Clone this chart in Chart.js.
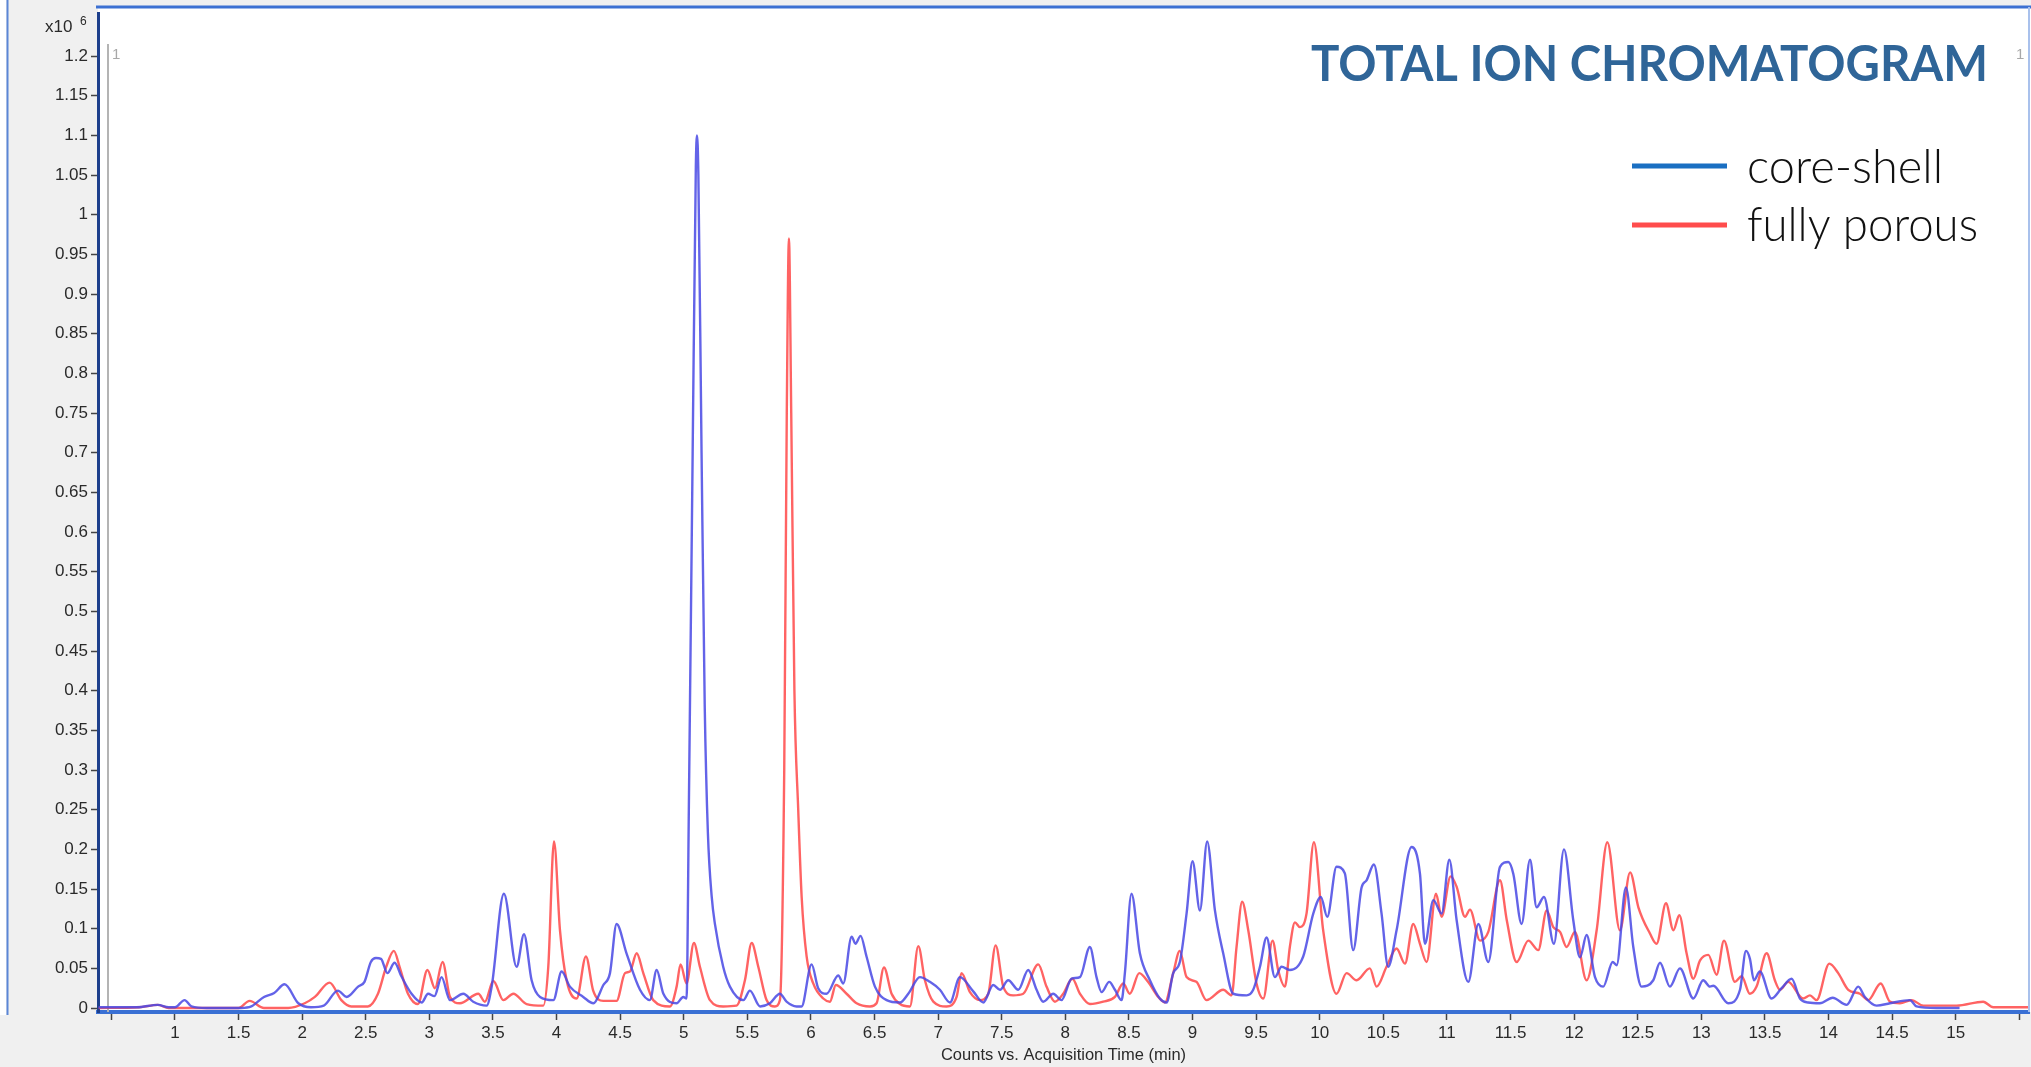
<!DOCTYPE html>
<html>
<head>
<meta charset="utf-8">
<title>Total Ion Chromatogram</title>
<script src="https://cdn.jsdelivr.net/npm/chart.js@4.4.1/dist/chart.umd.min.js"></script>
<style>
  html, body { margin: 0; padding: 0; background: #f0f0f0; }
  #wrap { width: 2031px; height: 1067px; }
</style>
</head>
<body>
<div id="wrap"><canvas id="ticChart" width="2031" height="1067"></canvas></div>
<script>
// Acquisition time (min) / counts (x10^6), peaks and valleys
const coreShellTime = [
  0.40, 0.70, 0.866, 0.95, 1.00, 1.076, 1.13, 1.25, 1.52, 1.60,
  1.70, 1.78, 1.862, 1.97, 2.07, 2.17, 2.281, 2.35, 2.44, 2.49,
  2.54, 2.58, 2.62, 2.67, 2.727, 2.78, 2.86, 2.94, 2.99, 3.04,
  3.096, 3.162, 3.267, 3.345, 3.45, 3.49, 3.586, 3.686, 3.744, 3.804,
  3.87, 3.975, 4.04, 4.105, 4.21, 4.29, 4.368, 4.42, 4.472, 4.55,
  4.656, 4.734, 4.787, 4.84, 4.944, 4.996, 5.022, 5.04, 5.07, 5.095,
  5.104, 5.115, 5.14, 5.165, 5.19, 5.22, 5.245, 5.31, 5.363, 5.47,
  5.52, 5.60, 5.677, 5.756, 5.808, 5.887, 5.926, 6.005, 6.057, 6.123,
  6.215, 6.254, 6.32, 6.35, 6.39, 6.437, 6.503, 6.595, 6.70, 6.765,
  6.857, 6.935, 7.014, 7.093, 7.171, 7.276, 7.355, 7.433, 7.486, 7.551,
  7.63, 7.708, 7.774, 7.826, 7.905, 7.97, 8.049, 8.115, 8.193, 8.245,
  8.285, 8.345, 8.39, 8.442, 8.468, 8.52, 8.586, 8.665, 8.743, 8.796,
  8.848, 8.9, 8.953, 9.0, 9.058, 9.115, 9.176, 9.241, 9.32, 9.425,
  9.477, 9.53, 9.582, 9.647, 9.70, 9.765, 9.87, 9.949, 10.009, 10.059,
  10.132, 10.197, 10.263, 10.329, 10.368, 10.426, 10.486, 10.538, 10.604, 10.722,
  10.788, 10.827, 10.893, 10.958, 11.019, 11.076, 11.168, 11.247, 11.325, 11.417,
  11.482, 11.522, 11.587, 11.653, 11.705, 11.763, 11.841, 11.92, 11.993, 12.046,
  12.098, 12.164, 12.229, 12.303, 12.334, 12.407, 12.465, 12.53, 12.622, 12.675,
  12.753, 12.832, 12.937, 13.015, 13.068, 13.094, 13.212, 13.304, 13.351, 13.382,
  13.413, 13.46, 13.552, 13.631, 13.71, 13.775, 13.84, 13.932, 14.032, 14.142,
  14.234, 14.286, 14.378, 14.483, 14.64, 14.692, 14.85, 15.03
];
const coreShellCounts = [
  0.001, 0.001, 0.004, 0.001, 0.001, 0.010, 0.002, 0.000, 0.000, 0.002,
  0.014, 0.019, 0.030, 0.006, 0.001, 0.003, 0.022, 0.014, 0.027, 0.033,
  0.058, 0.063, 0.062, 0.044, 0.057, 0.040, 0.018, 0.007, 0.018, 0.015,
  0.039, 0.010, 0.018, 0.008, 0.003, 0.027, 0.144, 0.052, 0.093, 0.035,
  0.014, 0.010, 0.046, 0.027, 0.014, 0.006, 0.029, 0.044, 0.106, 0.069,
  0.023, 0.010, 0.048, 0.018, 0.006, 0.014, 0.012, 0.25, 0.70, 1.06,
  1.10, 1.05, 0.70, 0.38, 0.22, 0.14, 0.106, 0.052, 0.027, 0.010,
  0.022, 0.002, 0.006, 0.018, 0.008, 0.002, 0.002, 0.055, 0.025, 0.018,
  0.041, 0.031, 0.090, 0.081, 0.091, 0.065, 0.027, 0.010, 0.007, 0.018,
  0.039, 0.033, 0.023, 0.007, 0.039, 0.021, 0.007, 0.029, 0.023, 0.035,
  0.023, 0.048, 0.023, 0.008, 0.018, 0.010, 0.037, 0.039, 0.077, 0.039,
  0.020, 0.033, 0.023, 0.010, 0.044, 0.144, 0.069, 0.035, 0.012, 0.007,
  0.044, 0.058, 0.119, 0.185, 0.123, 0.210, 0.123, 0.069, 0.018, 0.016,
  0.023, 0.052, 0.089, 0.039, 0.052, 0.048, 0.065, 0.119, 0.140, 0.115,
  0.178, 0.170, 0.073, 0.152, 0.161, 0.181, 0.119, 0.052, 0.098, 0.203,
  0.169, 0.081, 0.136, 0.119, 0.187, 0.111, 0.033, 0.106, 0.058, 0.178,
  0.184, 0.169, 0.106, 0.187, 0.127, 0.140, 0.081, 0.200, 0.111, 0.064,
  0.092, 0.039, 0.027, 0.058, 0.054, 0.152, 0.077, 0.027, 0.035, 0.057,
  0.027, 0.050, 0.012, 0.035, 0.027, 0.028, 0.006, 0.023, 0.072, 0.062,
  0.035, 0.046, 0.012, 0.025, 0.037, 0.012, 0.007, 0.006, 0.013, 0.004,
  0.027, 0.014, 0.003, 0.006, 0.010, 0.002, 0.000, 0.000
];

const fullyPorousTime = [
  0.40, 0.72, 0.865, 0.95, 1.50, 1.587, 1.70, 1.89, 2.02, 2.10,
  2.216, 2.308, 2.386, 2.517, 2.596, 2.661, 2.721, 2.766, 2.832, 2.91,
  2.985, 3.044, 3.104, 3.162, 3.24, 3.385, 3.437, 3.503, 3.582, 3.66,
  3.765, 3.896, 3.935, 3.98, 4.027, 4.079, 4.158, 4.231, 4.288, 4.367,
  4.472, 4.538, 4.577, 4.63, 4.682, 4.76, 4.892, 4.944, 4.975, 5.022,
  5.08, 5.127, 5.206, 5.31, 5.415, 5.481, 5.534, 5.586, 5.651, 5.717,
  5.756, 5.79, 5.81, 5.827, 5.845, 5.87, 5.90, 5.927, 5.966, 6.018,
  6.097, 6.149, 6.196, 6.28, 6.359, 6.464, 6.516, 6.574, 6.634, 6.70,
  6.778, 6.844, 6.896, 6.962, 7.066, 7.145, 7.184, 7.25, 7.328, 7.394,
  7.452, 7.512, 7.59, 7.669, 7.787, 7.852, 7.918, 7.983, 8.055, 8.115,
  8.193, 8.298, 8.39, 8.455, 8.507, 8.581, 8.65, 8.73, 8.783, 8.848,
  8.90, 8.953, 9.03, 9.11, 9.241, 9.307, 9.346, 9.39, 9.438, 9.503,
  9.556, 9.629, 9.673, 9.726, 9.765, 9.805, 9.844, 9.896, 9.954, 10.027,
  10.132, 10.211, 10.29, 10.394, 10.447, 10.525, 10.604, 10.67, 10.735, 10.788,
  10.84, 10.914, 10.958, 11.029, 11.076, 11.142, 11.181, 11.26, 11.325, 11.417,
  11.47, 11.548, 11.64, 11.718, 11.784, 11.836, 11.889, 11.941, 12.006, 12.098,
  12.177, 12.261, 12.36, 12.44, 12.505, 12.596, 12.648, 12.722, 12.78, 12.827,
  12.884, 12.937, 12.99, 13.055, 13.12, 13.178, 13.264, 13.317, 13.382, 13.434,
  13.513, 13.578, 13.618, 13.683, 13.8, 13.854, 13.906, 14.006, 14.076, 14.155,
  14.247, 14.312, 14.41, 14.483, 14.561, 14.653, 14.745, 14.85, 15.007, 15.216,
  15.295, 15.576
];
const fullyPorousCounts = [
  0.000, 0.001, 0.004, 0.000, 0.000, 0.009, 0.000, 0.000, 0.006, 0.014,
  0.032, 0.010, 0.002, 0.002, 0.018, 0.052, 0.072, 0.052, 0.018, 0.005,
  0.048, 0.025, 0.058, 0.014, 0.006, 0.018, 0.008, 0.034, 0.010, 0.018,
  0.005, 0.003, 0.052, 0.210, 0.098, 0.035, 0.012, 0.065, 0.022, 0.009,
  0.009, 0.044, 0.046, 0.069, 0.044, 0.010, 0.002, 0.027, 0.055, 0.031,
  0.082, 0.052, 0.010, 0.002, 0.003, 0.035, 0.082, 0.052, 0.010, 0.002,
  0.010, 0.300, 0.750, 0.970, 0.750, 0.400, 0.250, 0.140, 0.065, 0.031,
  0.012, 0.008, 0.029, 0.018, 0.006, 0.002, 0.006, 0.051, 0.018, 0.005,
  0.002, 0.078, 0.035, 0.008, 0.002, 0.014, 0.044, 0.020, 0.010, 0.018,
  0.079, 0.027, 0.016, 0.018, 0.055, 0.027, 0.008, 0.018, 0.037, 0.018,
  0.005, 0.008, 0.014, 0.031, 0.018, 0.044, 0.033, 0.014, 0.007, 0.044,
  0.072, 0.039, 0.033, 0.010, 0.023, 0.016, 0.077, 0.134, 0.098, 0.031,
  0.012, 0.085, 0.048, 0.027, 0.077, 0.108, 0.102, 0.119, 0.209, 0.098,
  0.018, 0.044, 0.035, 0.050, 0.027, 0.052, 0.075, 0.056, 0.106, 0.081,
  0.058, 0.144, 0.115, 0.166, 0.153, 0.115, 0.124, 0.085, 0.096, 0.161,
  0.111, 0.058, 0.085, 0.073, 0.123, 0.102, 0.096, 0.077, 0.096, 0.035,
  0.098, 0.209, 0.098, 0.171, 0.127, 0.094, 0.081, 0.132, 0.098, 0.117,
  0.069, 0.037, 0.060, 0.067, 0.042, 0.085, 0.033, 0.040, 0.018, 0.027,
  0.069, 0.035, 0.023, 0.033, 0.012, 0.016, 0.010, 0.056, 0.044, 0.023,
  0.018, 0.010, 0.031, 0.008, 0.006, 0.010, 0.003, 0.003, 0.003, 0.008,
  0.001, 0.001
];

const seriesLabels = ['core-shell', 'fully porous'];
const lineColors = ['rgba(72, 72, 228, 0.85)', 'rgba(255, 72, 72, 0.85)'];
const legendColors = ['#1a6fc2', '#ff4c4c'];
const chartTitle = 'TOTAL ION CHROMATOGRAM';
const xAxisTitle = 'Counts vs. Acquisition Time (min)';

function toPoints(times, counts) {
    return times.map((t, i) => ({ x: t, y: counts[i] }));
}

// white plot area, the outer frame, the "x10^6" tag and the cursor marker
const framePlugin = {
    id: 'frame',
    beforeDraw(chart) {
        const ctx = chart.ctx;
        const a = chart.chartArea;
        ctx.save();
        ctx.fillStyle = '#ffffff';
        ctx.fillRect(0, 0, 6, 1015);
        ctx.fillRect(a.left, 7, a.right - a.left + 2, a.bottom - 7);
        ctx.strokeStyle = '#5b86d6';
        ctx.lineWidth = 2;
        ctx.beginPath();
        ctx.moveTo(7.5, 0);
        ctx.lineTo(7.5, 1015);
        ctx.stroke();
        ctx.restore();
    },
    beforeDatasetsDraw(chart) {
        const ctx = chart.ctx;
        const a = chart.chartArea;
        ctx.save();
        ctx.strokeStyle = '#b4b4b4';
        ctx.lineWidth = 2;
        ctx.beginPath();
        ctx.moveTo(108, 44);
        ctx.lineTo(108, a.bottom);
        ctx.stroke();
        ctx.fillStyle = '#a8a8a8';
        ctx.font = '15px "Liberation Sans", Arial, sans-serif';
        ctx.textBaseline = 'alphabetic';
        ctx.fillText('1', 112, 59);
        ctx.fillText('1', 2016, 59);
        ctx.restore();
    },
    afterDraw(chart) {
        const ctx = chart.ctx;
        const a = chart.chartArea;
        ctx.save();
        // top and right frame
        ctx.strokeStyle = '#3c70d2';
        ctx.lineWidth = 3;
        ctx.beginPath();
        ctx.moveTo(a.left - 2, 7);
        ctx.lineTo(2031, 7);
        ctx.stroke();
        ctx.strokeStyle = '#a9c1ec';
        ctx.lineWidth = 2;
        ctx.beginPath();
        ctx.moveTo(2029, 7);
        ctx.lineTo(2029, a.bottom);
        ctx.stroke();

        // exponent tag above the y axis
        ctx.fillStyle = '#2a2a2a';
        ctx.font = '17px "Liberation Sans", Arial, sans-serif';
        ctx.textBaseline = 'alphabetic';
        ctx.textAlign = 'left';
        ctx.fillText('x10', 45, 32);
        ctx.font = '12px "Liberation Sans", Arial, sans-serif';
        ctx.fillText('6', 80, 25);

        // title, squeezed to the width it takes in the original
        ctx.fillStyle = '#2f6598';
        ctx.font = 'bold 50px Lato, "Open Sans", sans-serif';
        fitText(ctx, chartTitle, 1311, 81, 677);

        // legend
        const legendBase = [183, 241];
        const legendLineY = [166, 225];
        const legendWidths = [196, 231];
        ctx.lineWidth = 5;
        ctx.font = '300 48px Lato, "Open Sans", sans-serif';
        seriesLabels.forEach((label, i) => {
            ctx.strokeStyle = legendColors[i];
            ctx.beginPath();
            ctx.moveTo(1632, legendLineY[i]);
            ctx.lineTo(1727, legendLineY[i]);
            ctx.stroke();
            ctx.fillStyle = '#111111';
            fitText(ctx, label, 1747, legendBase[i], legendWidths[i]);
        });
        ctx.restore();
    }
};

function fitText(ctx, text, x, y, width) {
    const w = ctx.measureText(text).width;
    ctx.save();
    ctx.translate(x, y);
    ctx.scale(width / w, 1);
    ctx.textAlign = 'left';
    ctx.fillText(text, 0, 0);
    ctx.restore();
}

const tickFont = { family: '"Liberation Sans", Arial, sans-serif', size: 17 };

const ctx = document.getElementById('ticChart').getContext('2d');
const ticChart = new Chart(ctx, {
    type: 'line',
    data: {
        datasets: [{
            label: seriesLabels[0],
            data: toPoints(coreShellTime, coreShellCounts),
            borderColor: lineColors[0],
            borderWidth: 2.4,
            fill: false
        }, {
            label: seriesLabels[1],
            data: toPoints(fullyPorousTime, fullyPorousCounts),
            borderColor: lineColors[1],
            borderWidth: 2.4,
            fill: false
        }]
    },
    options: {
        responsive: false,
        devicePixelRatio: 1,
        animation: false,
        layout: {
            autoPadding: false,
            padding: { top: 10, right: 2, left: 0, bottom: 0 }
        },
        elements: {
            point: { radius: 0 },
            line: { cubicInterpolationMode: 'monotone' }
        },
        plugins: {
            legend: { display: false },
            tooltip: { enabled: false }
        },
        scales: {
            x: {
                type: 'linear',
                min: 0.395,
                max: 15.576,
                afterFit: function(scale) { scale.height = 55; },
                ticks: {
                    stepSize: 0.5,
                    includeBounds: false,
                    autoSkip: false,
                    maxRotation: 0,
                    padding: 3,
                    color: '#2a2a2a',
                    font: tickFont,
                    callback: function(value) {
                        if (value < 0.75 || value > 15.25) return '';
                        return String(Number(value.toFixed(2)));
                    }
                },
                grid: {
                    drawOnChartArea: false,
                    tickLength: 8,
                    tickColor: '#444444',
                    tickWidth: 1.5
                },
                border: { color: '#3a70d4', width: 4 },
                title: {
                    display: true,
                    text: xAxisTitle,
                    color: '#2a2a2a',
                    font: { family: '"Liberation Sans", Arial, sans-serif', size: 16.5 },
                    padding: { top: 0, bottom: 2 }
                }
            },
            y: {
                min: -0.005,
                max: 1.254,
                afterFit: function(scale) { scale.width = 98; },
                afterBuildTicks: function(scale) {
                    scale.ticks = scale.ticks.filter(t => t.value <= 1.2001);
                },
                ticks: {
                    stepSize: 0.05,
                    includeBounds: false,
                    autoSkip: false,
                    padding: 3,
                    color: '#2a2a2a',
                    font: tickFont,
                    callback: function(value) {
                        return String(Number(value.toFixed(2)));
                    }
                },
                grid: {
                    drawOnChartArea: false,
                    tickLength: 7,
                    tickColor: '#444444',
                    tickWidth: 1.5
                },
                border: { color: '#1d3f8c', width: 3 }
            }
        }
    },
    plugins: [framePlugin]
});
</script>
</body>
</html>
